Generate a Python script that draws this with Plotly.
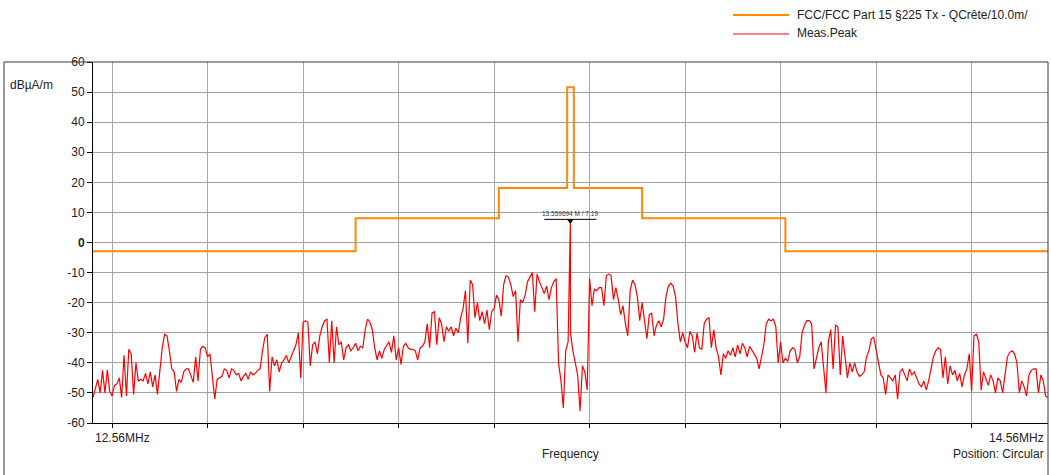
import numpy as np
import plotly.graph_objects as go

# Sweep settings (MHz)
SWEEP_START_MHZ = 12.56
SWEEP_STOP_MHZ = 14.56

# FCC Part 15.225 limit (dBuA/m at 10 m), step corners
LIMIT_FREQ_MHZ = [12.56, 13.110, 13.410, 13.553, 13.567, 13.710, 14.010, 14.56]
LIMIT_LEVEL = [-2.9, 8.1, 18.1, 51.6, 18.1, 8.1, -2.9, -2.9]

# Peak detector readings, one per sweep point (0.005 MHz spacing)
MEAS_PEAK = [
    -51.5, -48, -45.5, -50, -42.5, -50, -42.3, -49.5, -51, -47.5, -47, -45, -51.5, -37.5, -51, -35.5, -37, -50.5, -40, -46,
    -45.5, -46, -43.5, -47, -43, -48, -44, -50.5, -42, -35, -30.5, -31, -36, -42, -43, -49.5, -45.5, -46.5, -43, -42,
    -42, -44, -46.5, -38, -46, -35.5, -34.5, -35, -38, -37, -44, -52, -45.5, -45, -44.5, -42, -42.5, -45, -42, -42.5,
    -44, -43.5, -46, -44.5, -43.5, -45.5, -43, -44, -43.5, -42.5, -42, -36, -31.5, -30.5, -49.5, -38, -41, -39, -43, -40,
    -39, -37.5, -40, -38, -36, -34, -30, -45, -26.5, -26, -26.5, -41, -34, -33, -37, -31, -28, -26, -25.5, -40,
    -26, -40, -28, -34, -33, -39, -35, -34, -36, -35, -33.5, -36, -34.5, -35, -29, -25.5, -26.5, -29, -35, -39,
    -36, -38.5, -35.5, -34, -33, -36.5, -31, -39, -35, -40.5, -34.5, -33.5, -35, -35.5, -35.5, -36, -39, -35, -34.5, -33,
    -27, -35, -23.5, -23, -34, -25, -27, -33, -28, -29.5, -28, -31, -28.5, -30, -25, -22, -16, -33.5, -12.5, -14,
    -25, -20, -26, -23, -27, -22.5, -29, -23, -22, -17.5, -19, -24.5, -14, -11, -11.5, -14, -18, -16, -33, -19,
    -20, -17.5, -13, -11.5, -10, -23, -10.5, -13, -15, -17, -14.5, -19, -15, -13, -12, -40, -46, -55, -36, -33,
    -30, -36, -40, -44, -56, -41, -43, -49, -12, -21, -15.5, -16, -15, -15, -21, -11, -10.5, -11, -19, -15,
    -19, -24, -21, -27, -31, -16, -12.5, -14, -18, -26, -20, -27, -32, -24, -23.5, -31, -27.5, -26, -28, -25.5,
    -18, -14.5, -13.5, -14.5, -18, -27, -33, -30, -33, -35, -29.5, -31, -36.5, -30, -35, -35.5, -27, -25.5, -25, -35,
    -29, -35, -38, -44, -37, -38.5, -36, -37.5, -35, -38, -34, -37, -33.5, -35, -38, -34.5, -36, -37, -38.5, -42,
    -38, -34, -27, -25.5, -26, -25.5, -28, -40, -33, -40, -38.5, -39.5, -36, -35, -35.5, -40, -38, -30, -27.5, -26,
    -26, -27, -42, -38, -35, -33, -42, -50, -33, -29, -42, -27.5, -28, -44, -31, -38, -45, -40, -43, -40,
    -43, -44.5, -44, -43, -38, -36, -32, -31.5, -36, -40, -44, -45, -50.5, -44, -45, -46, -44, -52, -43, -42,
    -44, -46, -42, -44, -43, -45, -47, -48, -46, -49, -46, -42, -38, -36, -35, -35.5, -45, -38, -47, -41,
    -44, -42.5, -46, -43.5, -48, -44, -42, -37, -49.5, -31, -30.5, -33, -49, -43, -45, -47.5, -44, -46, -50, -45,
    -46, -50, -44, -38, -36.5, -36, -37, -40, -50, -46, -48, -51, -44, -42.5, -42, -42, -50, -44, -46, -51,
    -51.5,
]

# Marker on the carrier
MARKER_FREQ_MHZ = 13.559694
MARKER_LEVEL = 7.19

Y_TICKS = list(range(-60, 61, 10))
Y_TICK_TEXT = ["<b>0</b>" if v == 0 else str(v) for v in Y_TICKS]

FONT = "Liberation Sans, Arial, sans-serif"
ORANGE = "#ff8a00"
RED = "#ff0000"

# Plot area geometry in pixels
W, H = 1051, 475
L, R, T, B = 93, 1048, 62, 423


def px(x):
    return (x - L) / (R - L)


def py(y):
    return (B - y) / (B - T)


# Sweep grid plus the marker point inserted in order
freq = np.linspace(SWEEP_START_MHZ, SWEEP_STOP_MHZ, len(MEAS_PEAK))
level = np.array(MEAS_PEAK, dtype=float)
idx = int(np.searchsorted(freq, MARKER_FREQ_MHZ))
freq = np.insert(freq, idx, MARKER_FREQ_MHZ)
level = np.insert(level, idx, MARKER_LEVEL)

fig = go.Figure()

fig.add_trace(go.Scatter(
    x=LIMIT_FREQ_MHZ, y=LIMIT_LEVEL, mode="lines",
    line=dict(color=ORANGE, width=2, shape="hv"),
    name="FCC/FCC Part 15 §225 Tx - QCrête/10.0m/", hoverinfo="skip",
))

fig.add_trace(go.Scatter(
    x=freq, y=level, mode="lines",
    line=dict(color=RED, width=1.2),
    name="Meas.Peak",
))

fig.add_trace(go.Scatter(
    x=[MARKER_FREQ_MHZ], y=[MARKER_LEVEL], mode="markers",
    marker=dict(symbol="triangle-down", size=6, color="black"),
    showlegend=False, hoverinfo="skip",
))

shapes = [
    # outer frame
    dict(type="rect", xref="paper", yref="paper",
         x0=px(4), x1=px(R), y0=py(H + 20), y1=py(T),
         line=dict(color="#3a3a3a", width=1), fillcolor="rgba(0,0,0,0)", layer="above"),
    # legend samples
    dict(type="line", xref="paper", yref="paper",
         x0=px(733), x1=px(789), y0=py(15), y1=py(15),
         line=dict(color=ORANGE, width=2)),
    dict(type="line", xref="paper", yref="paper",
         x0=px(733), x1=px(789), y0=py(34), y1=py(34),
         line=dict(color=RED, width=1)),
    # marker label underline
    dict(type="line", xref="x", yref="y",
         xsizemode="pixel", xanchor=MARKER_FREQ_MHZ, x0=-26, x1=26,
         ysizemode="pixel", yanchor=MARKER_LEVEL, y0=1.5, y1=1.5,
         line=dict(color="black", width=1)),
]

txt = dict(family=FONT, size=12, color="#222222")
annotations = [
    dict(text="dBµA/m", x=px(8), y=py(85), xanchor="left", yanchor="middle"),
    dict(text="12.56MHz", x=px(93), y=py(438), xanchor="left", yanchor="middle"),
    dict(text="14.56MHz", x=px(1046), y=py(438), xanchor="right", yanchor="middle"),
    dict(text="Position: Circular", x=px(1046), y=py(454), xanchor="right", yanchor="middle"),
    dict(text="Frequency", x=px(570), y=py(454), xanchor="center", yanchor="middle"),
    dict(text="FCC/FCC Part 15 §225 Tx - QCrête/10.0m/", x=px(795), y=py(15),
         xanchor="left", yanchor="middle"),
    dict(text="Meas.Peak", x=px(795), y=py(33), xanchor="left", yanchor="middle"),
]
for a in annotations:
    a.update(xref="paper", yref="paper", showarrow=False, font=txt)

annotations.append(dict(
    text=f"{MARKER_FREQ_MHZ:.6f} M / {MARKER_LEVEL:.2f}",
    x=MARKER_FREQ_MHZ, y=MARKER_LEVEL, xref="x", yref="y",
    xanchor="center", yanchor="middle", yshift=7, showarrow=False,
    font=dict(family=FONT, size=6.5, color="#333333"),
))

fig.update_layout(
    width=W, height=H,
    margin=dict(l=L, r=W - R, t=T, b=H - B, pad=0),
    paper_bgcolor="white", plot_bgcolor="white",
    showlegend=False,
    shapes=shapes, annotations=annotations,
    font=dict(family=FONT, size=12, color="#222222"),
    xaxis=dict(
        range=[SWEEP_START_MHZ, SWEEP_STOP_MHZ],
        tick0=12.6, dtick=0.2, showticklabels=False,
        ticks="outside", ticklen=4, tickcolor="black",
        showgrid=True, gridcolor="#a8a8a8", gridwidth=1,
        showline=True, linecolor="black", linewidth=1,
        zeroline=False, fixedrange=True,
    ),
    yaxis=dict(
        range=[-60, 60],
        tickvals=Y_TICKS, ticktext=Y_TICK_TEXT,
        ticks="outside", ticklen=5, tickcolor="black",
        tickfont=dict(family=FONT, size=12, color="#222222"),
        showgrid=True, gridcolor="#a0a0a0", gridwidth=1,
        showline=True, linecolor="black", linewidth=1,
        zeroline=False, fixedrange=True,
    ),
)

fig.write_html("out.html")
